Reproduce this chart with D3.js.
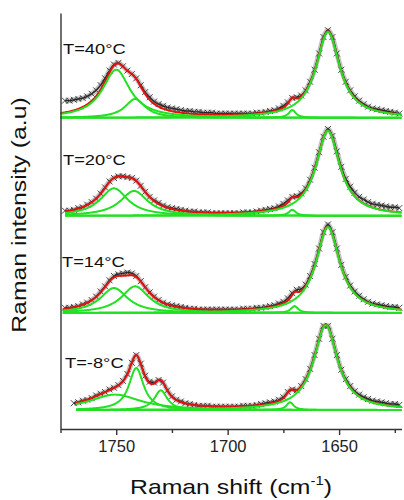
<!DOCTYPE html>
<html><head><meta charset="utf-8">
<script src="https://cdn.jsdelivr.net/npm/d3@7"></script>
<style>body{margin:0;background:#fff} svg{display:block}</style>
</head><body><svg id="c" width="404" height="500"></svg>
<script>
// ---------- DATA ----------
const panelLabels = ["T=40°C", "T=20°C", "T=14°C", "T=-8°C"];
const panelOffsets = [340, 226, 113, 0];
const shifts = [1773,1771,1769,1767,1765,1763,1761,1759,1757,1755,
  1753,1751,1749,1747,1745,1743,1741,1739,1737,1735,
  1733,1731,1729,1727,1725,1723,1721,1719,1717,1715,
  1713,1711,1709,1707,1705,1703,1701,1699,1697,1695,
  1693,1691,1689,1687,1685,1683,1681,1679,1677,1675,
  1673,1671,1669,1667,1665,1663,1661,1659,1657,1655,
  1653,1651,1649,1647,1645,1643,1641,1639,1637,1635,
  1633,1631,1629,1627,1625,1623];
const data40 = [20,20,21,22,23,25,28,32,38,46,
  55,62,64,60,55,51,46,38,30,24,
  19,16,14,12,11,10,9,8,8,7,
  7,6,6,6,5,5,5,5,5,5,
  5,5,5,6,6,7,8,9,11,14,
  18,23,24,26,32,42,56,75,94,102,
  94,75,56,42,32,25,20,16,13,11,
  10,9,8,7,6,5];
const data20 = [6,6,7,9,10,13,16,20,26,33,
  40,44,46,46,45,44,41,35,28,22,
  18,15,12,10,9,8,7,6,5,5,
  4,4,4,3,3,3,3,3,3,3,
  4,4,4,5,6,7,8,9,11,14,
  18,22,23,26,32,42,56,74,92,101,
  93,75,57,43,34,27,22,19,16,14,
  13,12,11,10,10,9];
const data14 = [6,6,7,8,10,12,15,19,25,31,
  38,43,45,46,47,46,43,37,30,24,
  19,15,12,10,9,8,7,6,5,5,
  4,4,4,4,4,4,4,4,4,4,
  5,5,5,6,6,7,8,9,11,13,
  17,23,27,28,33,43,57,75,94,103,
  94,75,56,42,32,25,20,16,13,11,
  10,9,8,7,7,6];
const dataM8 = [null,null,8,9,11,12,14,17,19,21,
  24,26,29,34,42,55,64,54,40,33,
  32,35,32,23,16,12,10,8,7,6,
  5,5,5,4,4,4,4,4,4,4,
  5,5,5,6,7,8,9,10,12,15,
  21,24,23,28,36,48,64,83,98,98,
  83,64,47,36,28,22,18,15,13,11,
  10,9,8,7,7,6];
// fitted Lorentzian components: [centre (cm-1), height, half width]
const comps40 = [[1655,100,6.5],[1671,9,2],[1750,56,7.5],[1741.5,22,5.5]];
const comps20 = [[1655,99,6.5],[1671,7,2],[1751,32,7.5],[1742,29,7.5]];
const comps14 = [[1655,100,6.5],[1670,8,2],[1751,29,7.5],[1741.5,31,7.5]];
const compsM8 = [[1656,99,6.5],[1672,9,2],[1750.5,18,14],[1741,49,4],[1730,23,3.5]];
const fitStart = [1775, 1773, 1774, 1768];
const fitEnd = [1622, 1622, 1622, 1622];
const majorTicks = [1750, 1700, 1650];
const minorTicks = [1775, 1725, 1675, 1625];

const panelData = [data40, data20, data14, dataM8];
const panelComps = [comps40, comps20, comps14, compsM8];

// ---------- CHART ----------
const FONT = "'Liberation Sans', Arial, sans-serif";
const svg = d3.select("#c");
const x = d3.scaleLinear().domain([1775, 1622]).range([60.5, 401.5]);
const y = d3.scaleLinear().domain([-22, 462]).range([429, 13]);

const green = "#22e022", red = "#e3120f";
const lor = (c, v) => c[1] / (1 + Math.pow((v - c[0]) / c[2], 2));

panelData.forEach((vals, p) => {
  const off = panelOffsets[p];
  const g = svg.append("g");
  const pts = shifts.map((s, i) => ({s, v: vals[i]})).filter(d => d.v != null);
  const dl = d3.line().curve(d3.curveMonotoneX).x(d => x(d.s)).y(d => y(d.v + off));
  // data: grey halo, line and crosses
  g.append("path").attr("d", dl(pts))
    .attr("fill", "none").attr("stroke", "#aaa").attr("stroke-width", 5).attr("stroke-opacity", 0.7);
  g.append("path").attr("d", dl(pts))
    .attr("fill", "none").attr("stroke", "#222").attr("stroke-width", 1.4);
  g.selectAll("path.m").data(pts).join("path").attr("class", "m")
    .attr("transform", d => `translate(${x(d.s)},${y(d.v + off)})`)
    .attr("d", "M-3,-3L3,3M-3,3L3,-3")
    .attr("stroke", "#333").attr("stroke-width", 0.9).attr("fill", "none");
  // fit
  const comps = panelComps[p];
  const grid = [];
  for (let v = fitStart[p]; v >= fitEnd[p]; v -= 0.25) grid.push(v);
  const line = d3.line().x(d => x(d[0])).y(d => y(d[1] + off));
  g.append("path")
    .attr("d", line(grid.map(v => [v, d3.sum(comps, c => lor(c, v))])))
    .attr("fill", "none").attr("stroke", red).attr("stroke-width", 2);
  comps.forEach(c => {
    g.append("path")
      .attr("d", line(grid.map(v => [v, lor(c, v)])))
      .attr("fill", "none").attr("stroke", green).attr("stroke-width", 2);
  });
});

// panel labels
const labelPos = [[63, 54], [63, 165], [62, 267], [65, 368]];
panelLabels.forEach((t, p) => {
  svg.append("text")
    .attr("transform", `translate(${labelPos[p][0]},${labelPos[p][1]}) scale(1.22,1)`)
    .attr("font-family", FONT).attr("font-size", 15).attr("fill", "#111")
    .text(t);
});

// axes
const ax = svg.append("g").attr("transform", "translate(0,429)")
  .call(d3.axisBottom(x).tickValues(majorTicks).tickSize(6).tickSizeOuter(0).tickPadding(5).tickFormat(d3.format("d")));
svg.append("g").attr("transform", "translate(0,429)")
  .call(d3.axisBottom(x).tickValues(minorTicks).tickSize(4).tickSizeOuter(0).tickFormat(""))
  .select(".domain").remove();
svg.append("g").attr("transform", "translate(60.5,0)")
  .call(d3.axisLeft(y).tickValues([]).tickSizeOuter(0));
svg.selectAll(".domain, .tick line").attr("stroke", "#333").attr("stroke-width", 1.4);
ax.selectAll("text").attr("font-family", FONT).attr("font-size", 16.5).attr("fill", "#222");

// axis titles
const xt = svg.append("text")
  .attr("transform", "translate(130,494) scale(1.24,1)")
  .attr("font-family", FONT).attr("font-size", 20).attr("fill", "#111");
xt.append("tspan").text("Raman shift (cm");
xt.append("tspan").attr("font-size", 12).attr("dy", -9).text("-1");
xt.append("tspan").attr("dy", 9).text(")");

svg.append("text")
  .attr("transform", "translate(26,215) rotate(-90) scale(1.24,1)")
  .attr("text-anchor", "middle")
  .attr("font-family", FONT).attr("font-size", 20).attr("fill", "#111")
  .text("Raman intensity (a.u)");
</script></body></html>
